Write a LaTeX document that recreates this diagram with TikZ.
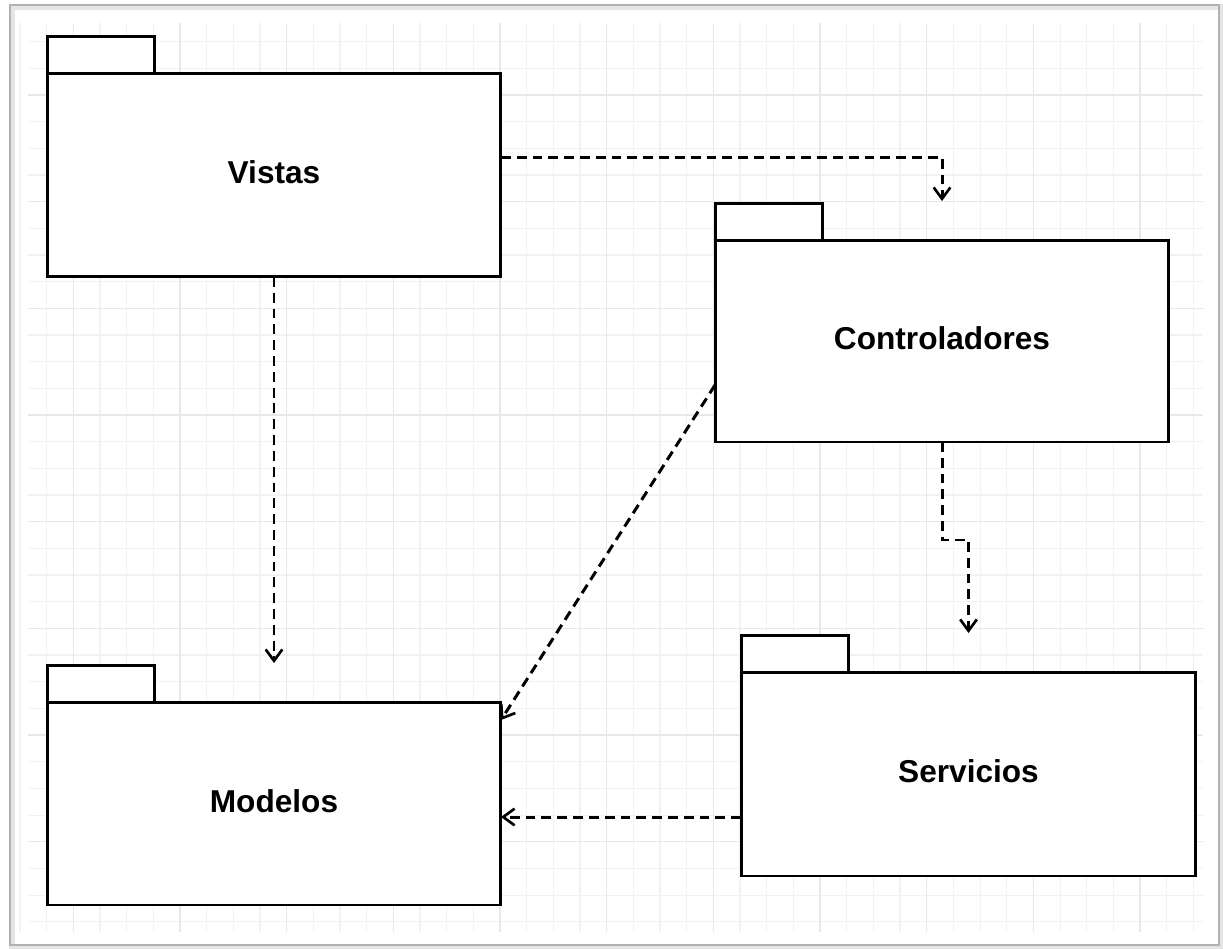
\documentclass[tikz,border=0pt]{standalone}
\usepackage{fontspec}
\setmainfont{Liberation Sans}
\usetikzlibrary{arrows.meta}
\begin{document}
\begin{tikzpicture}[x=0.02cm, y=-0.02cm,
  pkgbody/.style={draw=black, line width=1.7pt, fill=white, inner sep=0pt, outer sep=0pt,
    font=\fontsize{18}{22}\selectfont\bfseries},
  pkgtab/.style={draw=black, line width=1.7pt, fill=white, inner sep=0pt, outer sep=0pt,
    minimum width=2.14cm, minimum height=0.74cm, anchor=south west},
  dep/.style={draw=black, line width=1.7pt, dash pattern=on 5.6pt off 3.4pt,
    -{Straight Barb[length=6.5pt, width=9.5pt, line width=1.5pt]}},
  gridminor/.style={draw=black!5, line width=0.6pt},
  gridmajor/.style={draw=black!9, line width=0.8pt},
  frame/.style={draw=black!30, line width=1.4pt}]
\useasboundingbox (0,0) rectangle (1223,948);

% page frame with a soft edge
\draw[draw=black!10, line width=3pt] (12,7) rectangle (1221,947);
\draw[frame] (10,5) rectangle (1219,945);

% background grid
\foreach \k in {0,...,44} {
  \draw[gridminor] ({20+26.667*\k},23) -- ({20+26.667*\k},932);
}
\foreach \k in {0,...,33} {
  \draw[gridminor] (28,{41.667+26.667*\k}) -- (1203,{41.667+26.667*\k});
}
\foreach \k in {-1,...,9} {
  \draw[gridmajor] ({180+106.667*\k},23) -- ({180+106.667*\k},932);
}
\foreach \k in {0,...,7} {
  \draw[gridmajor] (28,{95+106.667*\k}) -- (1203,{95+106.667*\k});
}

% packages
\node[pkgbody, minimum width=9.08cm, minimum height=4.08cm] (vistas) at (274,175) {\raisebox{3pt}{Vistas}};
\node[pkgtab] (vistastab) at (vistas.north west) {};

\node[pkgbody, minimum width=9.08cm, minimum height=4.04cm] (ctrl) at (942,341) {\raisebox{3pt}{Controladores}};
\node[pkgtab] (ctrltab) at (ctrl.north west) {};

\node[pkgbody, minimum width=9.08cm, minimum height=4.06cm] (modelos) at (274,803.5) {\raisebox{3pt}{Modelos}};
\node[pkgtab] (modelostab) at (modelos.north west) {};

\node[pkgbody, minimum width=9.10cm, minimum height=4.08cm] (serv) at (968.5,774) {\raisebox{3pt}{Servicios}};
\node[pkgtab] (servtab) at (serv.north west) {};

% dependencies
\draw[dep] ([yshift=0.36cm]vistas.east) -| ([yshift=0.04cm]ctrl.north |- ctrltab.north);
\draw[dep] (vistas.south) -- ([yshift=0.04cm]modelos.north |- modelostab.north);
\draw[dep] ([yshift=-0.88cm]ctrl.west) -- ([yshift=1.67cm]modelos.east);
\draw[dep] (ctrl.south) -- ++(0,98) -| ([yshift=0.04cm]serv.north |- servtab.north);
\coordinate (servout) at ([yshift=-0.86cm]serv.west);
\draw[dep] (servout) -- (servout -| modelos.east);
\end{tikzpicture}
\end{document}
